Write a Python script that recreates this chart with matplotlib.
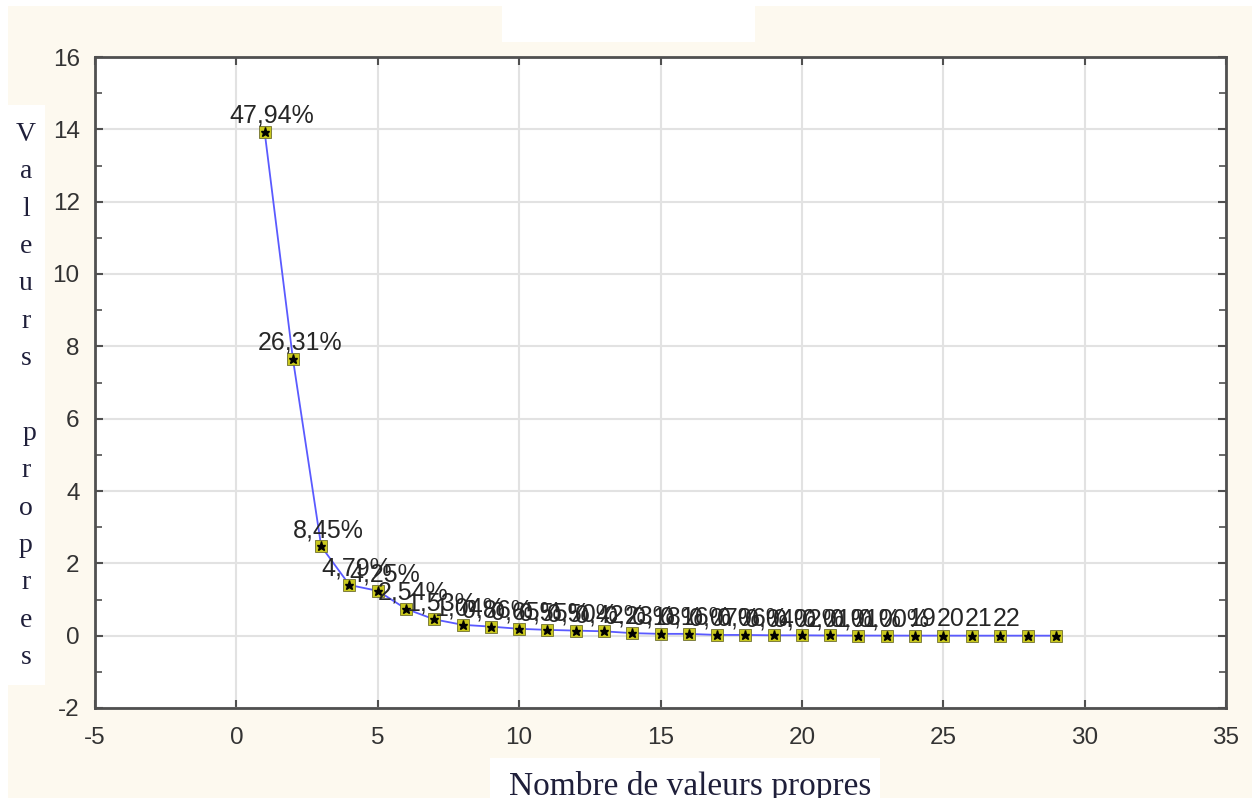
import numpy as np
import matplotlib.pyplot as plt
from matplotlib.patches import Rectangle
from matplotlib.ticker import MultipleLocator

plt.rcParams["axes.unicode_minus"] = False

# Scree plot data
rank = list(range(1, 30))
eigenvalues = [13.93, 7.65, 2.47, 1.40, 1.24, 0.74, 0.45, 0.30, 0.25, 0.19,
               0.16, 0.14, 0.12, 0.07, 0.05, 0.05, 0.02, 0.02, 0.01, 0.01,
               0.005, 0.003, 0.002, 0.001, 0.001, 0.0, 0.0, 0.0, 0.0]
point_labels = ["47,94%", "26,31%", "8,45%", "4,79%", "4,25%", "2,54%", "1,53%",
                "1,04%", "0,86%", "0,65%", "0,55%", "0,50%", "0,42%", "0,23%",
                "0,18%", "0,16%", "0,07%", "0,06%", "0,04%", "0,02%", "0,01%",
                "0,01%", "0,00%", "19", "20", "21", "22", "", ""]

cream = "#fdf9ef"
txt = "#262626"

fig = plt.figure(figsize=(12.52, 7.98), dpi=100, facecolor="white")

# cream backdrop plus white patches (as in the scanned figure)
fig.patches.append(Rectangle((8 / 1252, 0), 1 - 8 / 1252, 1 - 6 / 798,
                             transform=fig.transFigure, facecolor=cream,
                             edgecolor="none", zorder=-2))
for (x0, y0, x1, y1) in [(502, 0, 755, 42), (8, 105, 45, 685), (490, 758, 880, 798)]:
    fig.patches.append(Rectangle((x0 / 1252, 1 - y1 / 798), (x1 - x0) / 1252, (y1 - y0) / 798,
                                 transform=fig.transFigure, facecolor="white",
                                 edgecolor="none", zorder=-1))

ax = fig.add_axes([95 / 1252, 1 - 708 / 798, (1226 - 95) / 1252, (708 - 57) / 798])
ax.set_facecolor("white")

ax.plot(rank, eigenvalues, color="#5a5aff", lw=1.3, zorder=3)
ax.plot(rank, eigenvalues, ls="none", marker="s", ms=8.5, mfc="#c9c81e",
        mec="#6f6f30", mew=0.6, zorder=4)
ax.plot(rank, eigenvalues, ls="none", marker="*", ms=6.5, color="black", zorder=5)

for x, y, lab in zip(rank, eigenvalues, point_labels):
    if lab:
        ax.annotate(lab, (x, y), xytext=(5, 3), textcoords="offset points",
                    ha="center", va="bottom", fontsize=18, color=txt,
                    family="Liberation Sans", zorder=6)

ax.set_xlim(-5, 35)
ax.set_ylim(-2, 16)
ax.xaxis.set_major_locator(MultipleLocator(5))
ax.yaxis.set_major_locator(MultipleLocator(2))
ax.yaxis.set_minor_locator(MultipleLocator(1))
ax.grid(True, which="major", color="#e2e2e2", lw=1.5, zorder=0)
ax.set_axisbelow(True)

for s in ax.spines.values():
    s.set_color("#505050")
    s.set_linewidth(2)
ax.tick_params(which="both", direction="in", top=True, right=True, color="#505050")
ax.tick_params(which="major", length=6, width=1.5)
ax.tick_params(which="minor", length=5, width=1.2)
ax.tick_params(axis="x", pad=14, labelsize=17.5, labelcolor="#333333")
ax.tick_params(axis="y", pad=11, labelsize=17.5, labelcolor="#333333")
for lab in ax.get_xticklabels() + ax.get_yticklabels():
    lab.set_family("Liberation Sans")

# vertical letter-by-letter y label
fig.text(26 / 1252, 1 - 396 / 798, "V\na\nl\ne\nu\nr\ns\n\n p\nr\no\np\nr\ne\ns",
         ha="center", va="center", fontsize=20, family="Liberation Serif",
         color="#1f1f3a", linespacing=1.65)

fig.text(690 / 1252, 1 - 786 / 798, "Nombre de valeurs propres", ha="center",
         va="center", fontsize=24, family="Liberation Serif", color="#1f1f3a")

fig.savefig("out.png", dpi=100)
